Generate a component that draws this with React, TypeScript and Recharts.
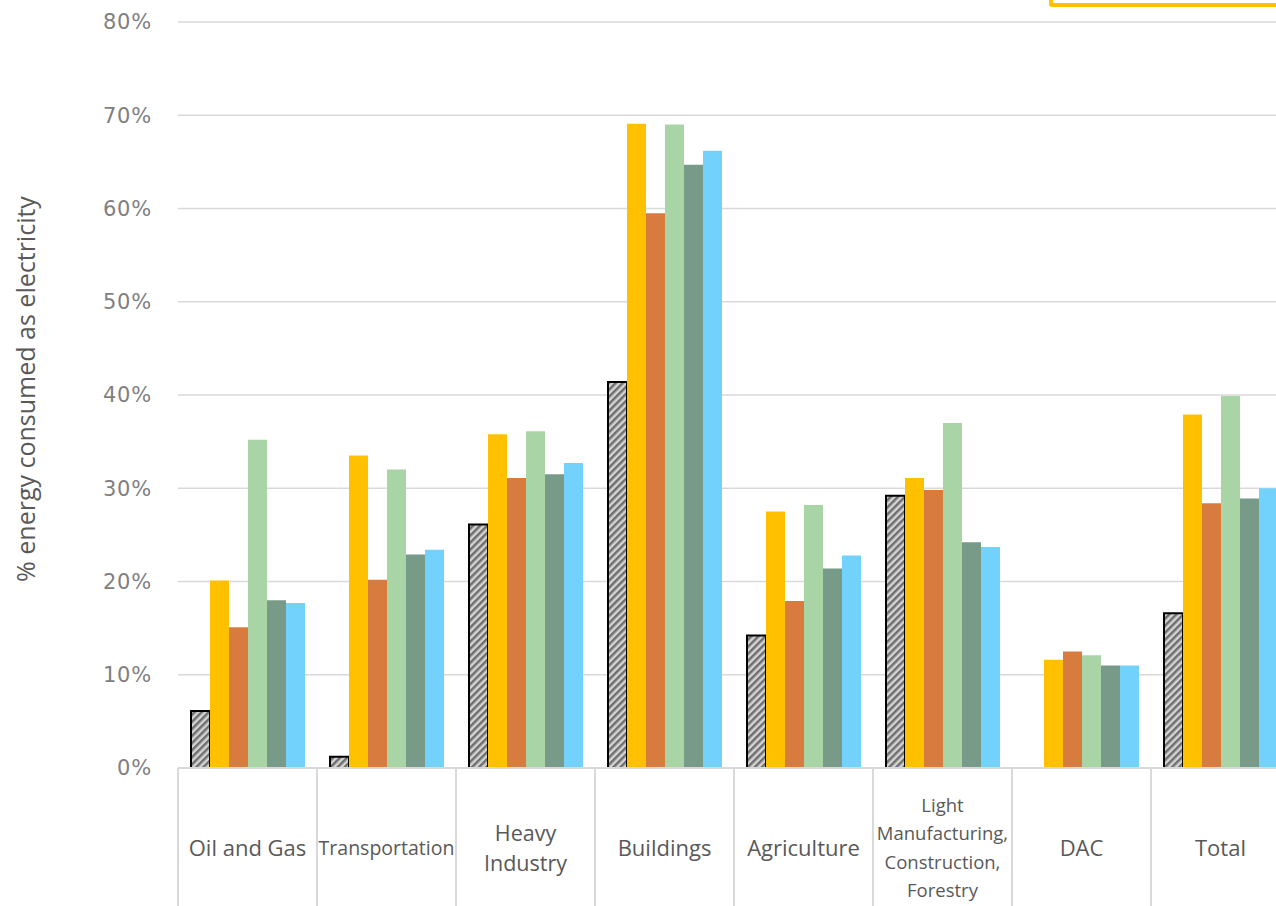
import React from "react";
import { BarChart, Bar, XAxis, YAxis, CartesianGrid } from "recharts";

const categories = [
  "Oil and Gas",
  "Transportation",
  "Heavy\nIndustry",
  "Buildings",
  "Agriculture",
  "Light\nManufacturing,\nConstruction,\nForestry",
  "DAC",
  "Total",
];

const seriesNames = ["Historical", "Scenario 1", "Scenario 2", "Scenario 3", "Scenario 4", "Scenario 5"];

const historical = [6.1, 1.2, 26.1, 41.4, 14.2, 29.2, null, 16.6];
const scenario1 = [20.1, 33.5, 35.8, 69.1, 27.5, 31.1, 11.6, 37.9];
const scenario2 = [15.1, 20.2, 31.1, 59.5, 17.9, 29.8, 12.5, 28.4];
const scenario3 = [35.2, 32.0, 36.1, 69.0, 28.2, 37.0, 12.1, 39.9];
const scenario4 = [18.0, 22.9, 31.5, 64.7, 21.4, 24.2, 11.0, 28.9];
const scenario5 = [17.7, 23.4, 32.7, 66.2, 22.8, 23.7, 11.0, 30.0];

const yTicks = [0, 10, 20, 30, 40, 50, 60, 70, 80];

const data = categories.map((c, i) => ({
  category: c,
  s0: historical[i],
  s1: scenario1[i],
  s2: scenario2[i],
  s3: scenario3[i],
  s4: scenario4[i],
  s5: scenario5[i],
}));

const CHART_W = 1300;
const CHART_H = 906;
const Y_W = 178;
const M_RIGHT = 10;
const HALF_BAND = (CHART_W - Y_W - M_RIGHT) / categories.length / 2;

const labelStyle: Record<string, { size: number; spacing: number }> = {
  "Transportation": { size: 19.5, spacing: 28 },
  "Heavy\nIndustry": { size: 21.5, spacing: 30 },
  "Light\nManufacturing,\nConstruction,\nForestry": { size: 18.5, spacing: 28.3 },
};

const CatTick = (props: any) => {
  const { x, y, payload, index, visibleTicksCount } = props;
  const value: string = payload.value;
  const lines = value.split("\n");
  const st = labelStyle[value] || { size: 22, spacing: 30 };
  const cy = y + 80 - ((lines.length - 1) * st.spacing) / 2;
  const last = index === visibleTicksCount - 1;
  return (
    <g>
      <line x1={x - HALF_BAND} x2={x - HALF_BAND} y1={y} y2={y + 150} stroke="#d9d9d9" strokeWidth={2} />
      {last && (
        <line x1={x + HALF_BAND} x2={x + HALF_BAND} y1={y} y2={y + 150} stroke="#d9d9d9" strokeWidth={2} />
      )}
      <text
        x={x}
        y={cy}
        textAnchor="middle"
        fill="#595959"
        fontFamily="'Open Sans', sans-serif"
        fontSize={st.size}
      >
        {lines.map((l, i) => (
          <tspan key={i} x={x} y={cy + i * st.spacing} dy="0.35em">
            {l}
          </tspan>
        ))}
      </text>
    </g>
  );
};

const YTitle = (props: any) => {
  const vb = props.viewBox || { x: 0, y: 22, width: Y_W, height: 746 };
  const cx = vb.x + 25;
  const cy = vb.y + vb.height / 2 - 6;
  return (
    <text
      x={cx}
      y={cy}
      transform={`rotate(-90 ${cx} ${cy})`}
      textAnchor="middle"
      dominantBaseline="central"
      fill="#595959"
      fontFamily="'Open Sans', sans-serif"
      fontSize={25}
    >
      % energy consumed as electricity
    </text>
  );
};

const colors = ["url(#hatch)", "#FFC000", "#D87B3E", "#A8D4A6", "#789A89", "#73D2FC"];

export default function App() {
  return (
    <div
      style={{
        position: "absolute",
        left: 0,
        top: 0,
        width: 1276,
        height: 906,
        overflow: "hidden",
        background: "#ffffff",
      }}
    >
      <BarChart
        width={CHART_W}
        height={CHART_H}
        data={data}
        margin={{ top: 22, right: M_RIGHT, bottom: 0, left: 0 }}
        barCategoryGap={13}
        barGap={0}
      >
        <defs>
          <pattern id="hatch" patternUnits="userSpaceOnUse" width="5" height="5" patternTransform="rotate(45)">
            <rect x="0" y="0" width="5" height="5" fill="#d4d4d4" />
            <rect x="0" y="0" width="2.5" height="5" fill="#6f6f6f" />
          </pattern>
        </defs>
        <CartesianGrid vertical={false} stroke="#d9d9d9" strokeWidth={1.5} />
        <XAxis
          dataKey="category"
          height={CHART_H - 768}
          interval={0}
          tick={<CatTick />}
          tickLine={false}
          tickSize={0}
          tickMargin={0}
          axisLine={{ stroke: "#d9d9d9", strokeWidth: 2 }}
        />
        <YAxis
          width={Y_W}
          domain={[0, 80]}
          ticks={yTicks}
          interval={0}
          tickFormatter={(v: number) => `${v}%`}
          axisLine={false}
          tickLine={false}
          tickSize={0}
          tickMargin={26}
          tick={{ fill: "#7f7f7f", fontSize: 21, fontFamily: "'DejaVu Sans', sans-serif", letterSpacing: 0.8 }}
          label={<YTitle />}
        />
        {["s0", "s1", "s2", "s3", "s4", "s5"].map((k, i) => (
          <Bar
            key={k}
            dataKey={k}
            name={seriesNames[i]}
            fill={colors[i]}
            stroke={i === 0 ? "#000000" : undefined}
            strokeWidth={i === 0 ? 2 : 0}
            isAnimationActive={false}
          />
        ))}
      </BarChart>
      <div
        style={{
          position: "absolute",
          left: 1049,
          top: -40,
          width: 260,
          height: 39,
          border: "4px solid #FFC000",
          borderRadius: 3,
        }}
      />
    </div>
  );
}
